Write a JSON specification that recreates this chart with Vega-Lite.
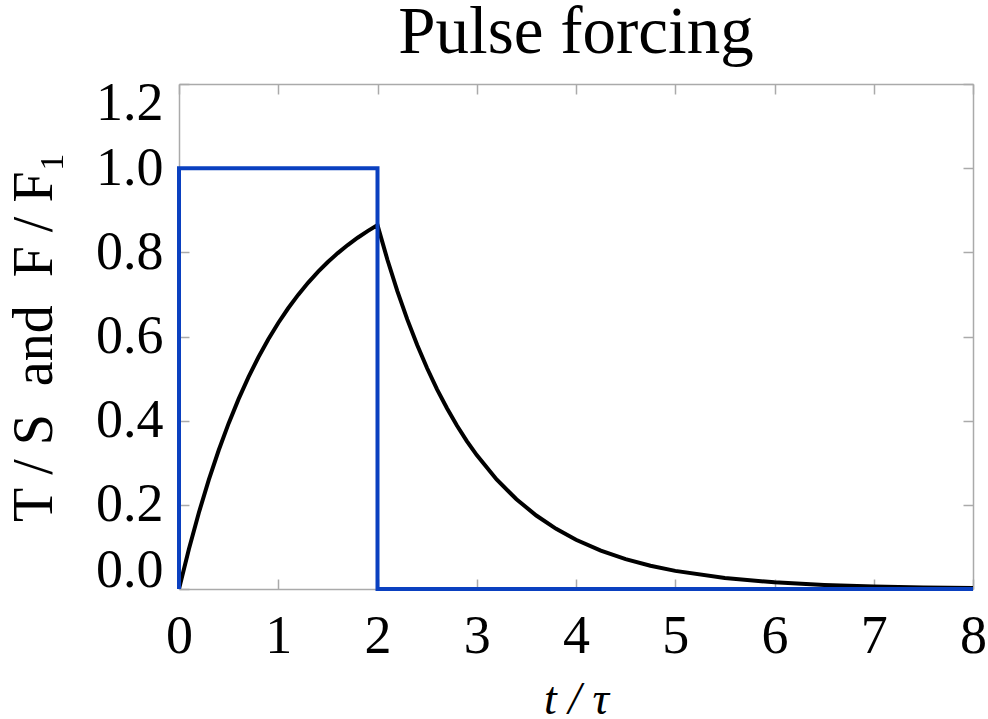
{
  "$schema": "https://vega.github.io/schema/vega-lite/v6.json",
  "autosize": "none",
  "width": 794,
  "height": 505,
  "padding": {"left": 179, "top": 84, "right": 15, "bottom": 130},
  "background": "white",
  "title": {"text": "Pulse forcing", "font": "Liberation Serif", "fontSize": 67, "fontWeight": "normal", "color": "black", "offset": 9, "anchor": "middle"},
  "config": {
    "view": {"stroke": null},
    "axis": {
      "grid": false,
      "domainColor": "#aaaaaa",
      "domainWidth": 1.5,
      "tickColor": "#aaaaaa",
      "tickWidth": 1.5,
      "tickSize": -10,
      "labelFont": "Liberation Serif",
      "labelFontSize": 54,
      "labelColor": "black",
      "labelOverlap": false,
      "titleFont": "Liberation Serif",
      "titleFontWeight": "normal",
      "titleColor": "black"
    }
  },
  "datasets": {
    "T": [
      {"t": 0, "v": 0}, {"t": 0.1, "v": 0.0952}, {"t": 0.2, "v": 0.1813}, {"t": 0.3, "v": 0.2592},
      {"t": 0.4, "v": 0.3297}, {"t": 0.5, "v": 0.3935}, {"t": 0.6, "v": 0.4512}, {"t": 0.7, "v": 0.5034},
      {"t": 0.8, "v": 0.5507}, {"t": 0.9, "v": 0.5934}, {"t": 1.0, "v": 0.6321}, {"t": 1.1, "v": 0.6671},
      {"t": 1.2, "v": 0.6988}, {"t": 1.3, "v": 0.7275}, {"t": 1.4, "v": 0.7534}, {"t": 1.5, "v": 0.7769},
      {"t": 1.6, "v": 0.7981}, {"t": 1.7, "v": 0.8173}, {"t": 1.8, "v": 0.8347}, {"t": 1.9, "v": 0.8504},
      {"t": 2.0, "v": 0.8647}, {"t": 2.1, "v": 0.7824}, {"t": 2.2, "v": 0.708}, {"t": 2.3, "v": 0.6406},
      {"t": 2.4, "v": 0.5796}, {"t": 2.5, "v": 0.5245}, {"t": 2.6, "v": 0.4745}, {"t": 2.7, "v": 0.4294},
      {"t": 2.8, "v": 0.3885}, {"t": 2.9, "v": 0.3516}, {"t": 3.0, "v": 0.3181}, {"t": 3.2, "v": 0.2604},
      {"t": 3.4, "v": 0.2132}, {"t": 3.6, "v": 0.1746}, {"t": 3.8, "v": 0.1429}, {"t": 4.0, "v": 0.117},
      {"t": 4.25, "v": 0.0911}, {"t": 4.5, "v": 0.071}, {"t": 4.75, "v": 0.0553}, {"t": 5.0, "v": 0.0431},
      {"t": 5.5, "v": 0.0261}, {"t": 6.0, "v": 0.0158}, {"t": 6.5, "v": 0.0096}, {"t": 7.0, "v": 0.0058},
      {"t": 7.5, "v": 0.0035}, {"t": 8.0, "v": 0.0021}
    ],
    "F": [
      {"i": 1, "t": 0, "v": 0}, {"i": 2, "t": 0, "v": 1}, {"i": 3, "t": 2, "v": 1},
      {"i": 4, "t": 2, "v": 0}, {"i": 5, "t": 8, "v": 0}
    ]
  },
  "layer": [
    {
      "data": {"name": "T"},
      "mark": {"type": "line", "color": "black", "strokeWidth": 4, "clip": true},
      "encoding": {
        "x": {"field": "t", "type": "quantitative", "scale": {"domain": [0, 8], "nice": false, "zero": false},
              "axis": {"orient": "bottom", "title": "t / τ", "titleFontStyle": "italic", "titleFontSize": 46, "values": [0,1,2,3,4,5,6,7,8], "labelFlush": false, "labelPadding": 30, "titlePadding": 14}},
        "y": {"field": "v", "type": "quantitative", "scale": {"domain": [0, 1.2], "nice": false},
              "axis": {"orient": "left", "title": "T / S\u2002and\u2002F / F₁", "titleFontSize": 56, "values": [0,0.2,0.4,0.6,0.8,1.0,1.2], "format": ".1f", "labelFlush": true, "labelFlushOffset": 8, "labelPadding": 26, "titlePadding": 32}}
      }
    },
    {
      "data": {"name": "F"},
      "mark": {"type": "line", "color": "#0a40c0", "strokeWidth": 4, "strokeJoin": "miter", "clip": false},
      "encoding": {
        "x": {"field": "t", "type": "quantitative", "axis": {"orient": "top", "title": null, "labels": false, "values": [0,1,2,3,4,5,6,7,8]}},
        "y": {"field": "v", "type": "quantitative", "axis": {"orient": "right", "title": null, "labels": false, "values": [0,0.2,0.4,0.6,0.8,1.0,1.2]}},
        "order": {"field": "i", "type": "quantitative"}
      }
    }
  ],
  "resolve": {"axis": {"x": "independent", "y": "independent"}}
}
